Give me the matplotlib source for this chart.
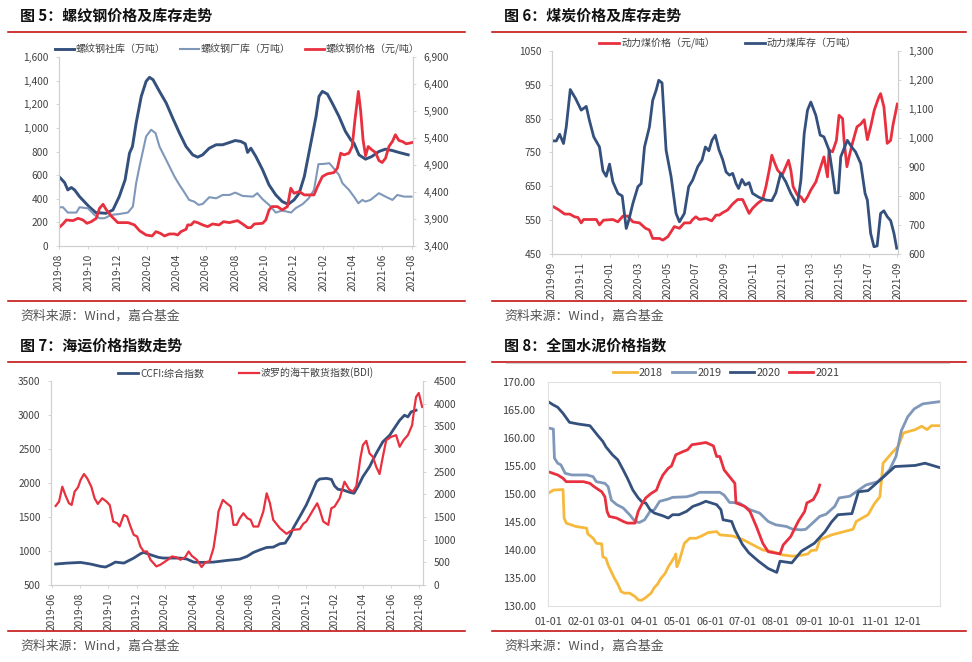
import numpy as np
import matplotlib
matplotlib.use("Agg")
import matplotlib.pyplot as plt
from matplotlib.lines import Line2D
from matplotlib.ticker import FuncFormatter

plt.rcParams['font.family'] = ['Noto Sans CJK SC', 'DejaVu Sans']

W, H = 972, 662

# ---------------- data ----------------
# fig 5: rebar, x = months since 2019-08
p1_ticks = ['2019-08', '2019-10', '2019-12', '2020-02', '2020-04', '2020-06', '2020-08',
            '2020-10', '2020-12', '2021-02', '2021-04', '2021-06', '2021-08']
rebar_social = [(0, 588), (0.38, 537), (0.6, 475), (0.84, 495), (1.06, 475), (1.4, 418),
                (2.04, 334), (2.5, 283), (3.2, 277), (3.67, 305), (4.1, 418), (4.5, 560),
                (4.8, 786), (5.0, 842), (5.25, 1040), (5.6, 1266), (5.93, 1394), (6.16, 1428),
                (6.4, 1408), (6.84, 1309), (7.3, 1210), (7.74, 1083), (8.2, 956), (8.65, 842),
                (9.1, 772), (9.44, 752), (9.78, 772), (10.23, 828), (10.7, 857), (11.14, 857),
                (11.6, 876), (12.0, 893), (12.38, 885), (12.68, 865), (12.84, 792), (13.06, 828),
                (13.4, 758), (13.86, 645), (14.3, 517), (14.76, 432), (15.2, 376), (15.6, 353),
                (16.0, 390), (16.35, 447), (16.7, 588), (17.1, 842), (17.5, 1097), (17.7, 1266),
                (17.93, 1309), (18.27, 1286), (18.6, 1210), (19.06, 1097), (19.5, 970),
                (19.86, 899), (20.08, 871), (20.42, 772), (20.87, 735), (21.3, 758), (21.78, 800),
                (22.23, 820), (22.7, 808), (23.14, 792), (23.77, 772)]
rebar_factory = [(0, 328), (0.27, 328), (0.6, 283), (1.18, 283), (1.4, 328), (1.97, 319),
                 (2.42, 263), (2.76, 235), (3.1, 235), (3.55, 263), (4.12, 271), (4.69, 283),
                 (5.03, 334), (5.25, 531), (5.48, 673), (5.93, 927), (6.27, 984), (6.57, 956),
                 (6.84, 842), (7.18, 758), (7.52, 673), (7.86, 588), (8.2, 517), (8.5, 461),
                 (8.86, 390), (9.2, 376), (9.5, 348), (9.78, 356), (10.23, 413), (10.7, 404),
                 (11.14, 432), (11.6, 432), (12.0, 452), (12.5, 424), (13.2, 418), (13.5, 447),
                 (13.86, 396), (14.3, 348), (14.76, 283), (15.2, 300), (15.8, 283), (16.1, 319),
                 (16.6, 356), (17.0, 404), (17.36, 475), (17.66, 693), (18.04, 695), (18.4, 701),
                 (18.6, 673), (19.06, 602), (19.3, 531), (19.74, 475), (20.08, 418), (20.38, 362),
                 (20.65, 390), (20.87, 376), (21.2, 390), (21.78, 447), (22.23, 418), (22.7, 390),
                 (23.03, 432), (23.5, 418), (24.0, 418)]
rebar_price = [(0, 3740), (0.27, 3808), (0.5, 3882), (0.95, 3870), (1.3, 3913), (1.63, 3882),
               (1.9, 3820), (2.2, 3851), (2.54, 3913), (2.76, 4099), (3.0, 4173), (3.2, 4080),
               (3.55, 3957), (4.0, 3833), (4.7, 3833), (5.14, 3790), (5.48, 3684), (5.93, 3604),
               (6.34, 3586), (6.6, 3666), (6.9, 3635), (7.18, 3586), (7.52, 3623), (7.86, 3623),
               (8.08, 3604), (8.3, 3666), (8.65, 3709), (8.76, 3790), (8.99, 3790), (9.2, 3851),
               (9.44, 3833), (9.78, 3790), (10.12, 3759), (10.46, 3808), (10.9, 3790),
               (11.2, 3851), (11.6, 3833), (12.15, 3870), (12.5, 3808), (12.84, 3740),
               (13.06, 3740), (13.3, 3808), (13.86, 3820), (14.08, 3882), (14.3, 4068),
               (14.5, 4130), (14.87, 4130), (15.2, 4068), (15.55, 4130), (15.78, 4470),
               (16.0, 4377), (16.35, 4408), (16.7, 4346), (17.36, 4346), (17.6, 4501),
               (17.93, 4686), (18.27, 4736), (18.72, 4760), (18.95, 4841), (19.18, 5119),
               (19.4, 5088), (19.74, 5119), (19.96, 5243), (20.15, 5738), (20.38, 6263),
               (20.53, 5923), (20.7, 5367), (20.87, 5070), (21.05, 5243), (21.3, 5181),
               (21.55, 5131), (21.78, 4983), (22.0, 4946), (22.23, 5026), (22.46, 5243),
               (22.7, 5336), (22.9, 5460), (23.14, 5354), (23.37, 5336), (23.64, 5292),
               (23.86, 5305), (24.05, 5317)]

# fig 6: coal, x = months since 2019-09
p2_ticks = ['2019-09', '2019-11', '2020-01', '2020-03', '2020-05', '2020-07', '2020-09',
            '2020-11', '2021-01', '2021-03', '2021-05', '2021-07', '2021-09']
coal_price = [(0, 592), (0.42, 582), (0.88, 568), (1.23, 568), (1.57, 560), (1.8, 558),
              (2.03, 542), (2.2, 552), (3.08, 552), (3.3, 536), (3.58, 550), (4.23, 552),
              (4.58, 545), (4.93, 562), (5.27, 562), (5.62, 545), (6.08, 542), (6.5, 526),
              (6.77, 521), (7.0, 496), (7.47, 496), (7.7, 491), (8.05, 501), (8.28, 516),
              (8.5, 531), (8.86, 526), (9.2, 542), (9.6, 542), (9.78, 552), (10.0, 560),
              (10.24, 552), (10.7, 555), (11.1, 548), (11.4, 565), (11.63, 565), (11.86, 572),
              (12.2, 580), (12.56, 598), (12.9, 611), (13.25, 611), (13.48, 590), (13.7, 570),
              (13.94, 585), (14.3, 600), (14.64, 611), (14.87, 649), (15.1, 698), (15.28, 742),
              (15.45, 722), (15.68, 698), (16.0, 683), (16.25, 708), (16.44, 727), (16.6, 698),
              (16.76, 649), (17.06, 624), (17.3, 619), (17.53, 604), (17.76, 619), (17.99, 639),
              (18.34, 663), (18.68, 708), (18.9, 737), (19.15, 678), (19.26, 757), (19.5, 752),
              (19.77, 786), (19.95, 860), (20.2, 850), (20.3, 786), (20.5, 708), (20.65, 737),
              (20.88, 777), (21.2, 826), (21.46, 834), (21.7, 847), (21.92, 788), (22.15, 826),
              (22.4, 875), (22.7, 912), (22.84, 924), (23.07, 885), (23.3, 777), (23.54, 786),
              (23.7, 831), (24.0, 893)]
coal_stock = [(0, 990), (0.3, 990), (0.53, 1013), (0.8, 981), (0.99, 1038), (1.27, 1167),
              (1.64, 1136), (2.03, 1096), (2.38, 1109), (2.6, 1061), (2.9, 1004), (3.3, 969),
              (3.54, 887), (3.77, 868), (4.0, 910), (4.23, 849), (4.58, 809), (4.88, 800),
              (5.16, 688), (5.34, 717), (5.62, 774), (5.97, 832), (6.2, 843), (6.43, 969),
              (6.77, 1038), (7.0, 1130), (7.24, 1165), (7.42, 1199), (7.65, 1190), (7.93, 958),
              (8.28, 866), (8.62, 740), (8.86, 711), (9.2, 740), (9.5, 832), (9.78, 855),
              (10.13, 901), (10.43, 924), (10.66, 969), (10.9, 956), (11.12, 992), (11.35, 1010),
              (11.6, 960), (11.86, 926), (12.1, 883), (12.33, 872), (12.56, 878), (12.79, 843),
              (12.97, 826), (13.2, 857), (13.43, 838), (13.7, 846), (13.94, 809), (14.4, 795),
              (14.87, 786), (15.28, 784), (15.56, 811), (15.9, 878), (16.25, 849), (16.6, 809),
              (17.06, 769), (17.3, 855), (17.53, 1015), (17.76, 1096), (17.99, 1124),
              (18.34, 1078), (18.64, 1010), (18.9, 1004), (19.26, 958), (19.5, 878),
              (19.68, 811), (19.9, 811), (20.07, 935), (20.3, 964), (20.53, 992), (20.83, 969),
              (21.1, 952), (21.46, 912), (21.76, 809), (21.92, 786), (22.15, 671), (22.38, 625),
              (22.6, 628), (22.84, 740), (23.07, 749), (23.3, 729), (23.54, 715), (23.77, 671),
              (23.96, 620)]

# fig 7: shipping, x = months since 2019-06
p3_ticks = ['2019-06', '2019-08', '2019-10', '2019-12', '2020-02', '2020-04', '2020-06',
            '2020-08', '2020-10', '2020-12', '2021-02', '2021-04', '2021-06', '2021-08']
ccfi = [(0.28, 808), (1.1, 822), (2.04, 832), (2.75, 808), (3.45, 774), (3.8, 764), (4.16, 798),
        (4.5, 837), (5.1, 822), (5.8, 896), (6.27, 959), (6.5, 979), (6.98, 945), (7.56, 906),
        (7.9, 896), (9.1, 896), (9.56, 881), (10.03, 837), (10.5, 832), (11.44, 837),
        (12.38, 861), (13.3, 881), (13.8, 920), (14.26, 979), (14.73, 1018), (15.2, 1052),
        (15.66, 1057), (16.13, 1106), (16.5, 1116), (16.84, 1223), (17.07, 1335), (17.54, 1506),
        (18.0, 1678), (18.37, 1849), (18.72, 2020), (18.95, 2059), (19.42, 2068), (19.77, 2054),
        (20.0, 1956), (20.24, 1907), (20.6, 1897), (21.07, 1863), (21.37, 1849), (21.65, 1946),
        (22.0, 2093), (22.47, 2239), (22.94, 2435), (23.41, 2606), (23.9, 2704), (24.24, 2811),
        (24.6, 2923), (24.94, 2997), (25.18, 2972), (25.41, 3046), (25.76, 3070)]
bdi = [(0.28, 1744), (0.52, 1840), (0.75, 2169), (0.99, 1964), (1.22, 1803), (1.41, 1766),
       (1.62, 2059), (1.86, 2155), (2.04, 2316), (2.28, 2448), (2.51, 2353), (2.8, 2169),
       (3.03, 1913), (3.26, 1788), (3.57, 1913), (3.88, 1840), (4.1, 1766), (4.35, 1400),
       (4.63, 1363), (4.8, 1290), (5.1, 1546), (5.33, 1510), (5.57, 1290), (5.8, 1107),
       (6.04, 1070), (6.27, 850), (6.5, 740), (6.74, 740), (6.98, 557), (7.4, 410), (7.68, 447),
       (8.03, 520), (8.27, 572), (8.5, 630), (8.85, 608), (9.1, 557), (9.44, 616), (9.68, 740),
       (9.9, 645), (10.26, 557), (10.6, 396), (10.85, 498), (11.15, 520), (11.44, 813),
       (11.67, 1290), (11.79, 1620), (12.1, 1876), (12.37, 1803), (12.66, 1730), (12.85, 1327),
       (13.08, 1327), (13.3, 1473), (13.55, 1583), (13.83, 1473), (14.07, 1437), (14.26, 1290),
       (14.6, 1290), (14.96, 1620), (15.2, 2023), (15.43, 1803), (15.66, 1437), (16.13, 1253),
       (16.6, 1129), (16.84, 1180), (17.07, 1217), (17.54, 1231), (17.78, 1349), (18.0, 1400),
       (18.48, 1656), (18.77, 1803), (18.95, 1656), (19.2, 1400), (19.55, 1327), (19.77, 1693),
       (20.0, 1730), (20.36, 1913), (20.7, 2279), (21.02, 2111), (21.3, 2059), (21.54, 2184),
       (21.82, 2792), (22.0, 3086), (22.24, 3181), (22.47, 2902), (22.7, 2829), (22.94, 2609),
       (23.18, 2448), (23.41, 2829), (23.65, 3195), (24.0, 3269), (24.35, 3305), (24.6, 3049),
       (24.87, 3195), (25.18, 3305), (25.48, 3525), (25.65, 3928), (25.76, 4148), (25.95, 4236),
       (26.19, 3928)]

# fig 8: cement, x = day of year
p4_ticks = ['01-01', '02-01', '03-01', '04-01', '05-01', '06-01', '07-01', '08-01', '09-01',
            '10-01', '11-01', '12-01']
p4_tick_days = [0, 31, 59, 90, 120, 151, 181, 212, 243, 273, 304, 334]
cem_2018 = [(0, 150.1), (5, 150.7), (14, 150.8), (15, 145.7), (17, 144.8), (26, 144.2),
            (36, 143.9), (37, 142.9), (42, 142.1), (45, 141.2), (50, 141.1), (51, 138.8),
            (54, 138.5), (56, 137.3), (59, 136.1), (62, 134.9), (65, 133.9), (68, 132.6),
            (71, 132.3), (76, 132.3), (81, 131.7), (84, 131.1), (87, 131.0), (91, 131.5),
            (96, 132.3), (99, 133.3), (102, 133.9), (105, 134.9), (109, 135.8), (112, 137.0),
            (115, 137.9), (118, 138.8), (119, 139.3), (120, 137.0), (122, 137.9), (127, 141.2),
            (132, 142.1), (138, 142.1), (143, 142.5), (149, 143.1), (157, 143.3), (160, 142.7),
            (172, 142.5), (181, 141.9), (191, 140.9), (200, 140.0), (209, 139.7), (219, 139.1),
            (228, 138.9), (237, 139.1), (242, 139.3), (245, 139.9), (250, 140.0), (253, 141.8),
            (264, 142.7), (276, 143.3), (284, 143.7), (287, 145.1), (298, 146.3), (304, 148.3),
            (309, 149.5), (312, 155.5), (320, 157.3), (326, 158.5), (331, 160.9), (342, 161.5),
            (348, 162.1), (353, 161.5), (357, 162.2), (365, 162.2)]
cem_2019 = [(0, 161.8), (5, 161.6), (6, 156.4), (9, 155.5), (12, 155.2), (16, 153.7),
            (22, 153.4), (36, 153.4), (42, 153.1), (45, 152.2), (53, 151.9), (56, 151.3),
            (59, 148.9), (64, 148.1), (70, 147.5), (76, 146.3), (81, 145.1), (85, 144.9),
            (90, 145.4), (95, 146.9), (99, 147.2), (104, 148.7), (112, 149.1), (116, 149.4),
            (129, 149.5), (135, 149.8), (141, 150.3), (150, 150.3), (160, 150.3), (164, 149.8),
            (169, 148.5), (178, 148.4), (188, 147.2), (197, 146.6), (205, 145.1), (212, 144.5),
            (222, 144.2), (228, 143.7), (236, 143.6), (240, 143.7), (248, 145.1), (253, 146.0),
            (259, 146.4), (267, 147.8), (271, 149.3), (281, 149.6), (287, 150.4), (296, 151.6),
            (307, 152.2), (312, 153.1), (318, 154.3), (324, 156.7), (329, 161.3), (335, 163.8),
            (341, 165.2), (349, 166.1), (365, 166.5)]
cem_2020 = [(0, 166.5), (5, 165.9), (9, 165.5), (14, 164.4), (17, 163.6), (20, 162.8),
            (28, 162.5), (39, 162.2), (42, 161.5), (47, 160.3), (51, 159.4), (54, 158.4),
            (60, 157.0), (65, 156.1), (70, 154.3), (74, 152.8), (79, 150.7), (84, 149.3),
            (88, 148.5), (91, 148.4), (95, 147.2), (99, 146.6), (107, 146.1), (112, 145.7),
            (116, 146.3), (122, 146.3), (129, 146.9), (135, 147.8), (141, 148.2), (147, 148.7),
            (157, 148.1), (161, 147.2), (163, 145.4), (171, 145.1), (174, 143.6), (181, 141.0),
            (187, 139.5), (196, 138.0), (205, 136.7), (213, 136.0), (216, 138.0), (227, 137.7),
            (236, 139.8), (248, 141.2), (258, 143.3), (264, 145.0), (270, 146.3), (283, 146.5),
            (289, 150.4), (298, 150.6), (311, 152.8), (323, 154.9), (342, 155.1), (351, 155.5),
            (365, 154.7)]
cem_2021 = [(0, 154.0), (9, 153.4), (14, 152.8), (17, 152.2), (33, 152.2), (39, 151.9),
            (43, 151.3), (50, 150.4), (53, 149.5), (55, 146.9), (57, 146.0), (64, 145.7),
            (70, 145.1), (74, 144.8), (81, 144.8), (84, 146.9), (88, 148.4), (91, 149.3),
            (96, 150.1), (101, 150.7), (104, 152.2), (107, 153.4), (112, 154.6), (115, 155.0),
            (119, 157.0), (126, 157.6), (130, 157.9), (134, 158.8), (141, 159.0), (147, 159.2),
            (154, 158.6), (157, 156.7), (160, 156.7), (164, 154.3), (169, 153.1), (174, 151.9),
            (175, 148.4), (183, 147.8), (188, 146.9), (194, 144.2), (200, 141.2), (205, 139.7),
            (216, 139.3), (219, 140.9), (226, 142.4), (233, 145.1), (239, 146.9), (241, 148.4),
            (247, 149.0), (251, 150.4), (253, 151.6)]

# ---------------- style ----------------
DARK = '#34507c'
LIGHT = '#7f98ba'
RED = '#e8303f'
YELLOW = '#f6b93b'
RULE = '#c00000'
SPINE = '#d0d0d0'
TXT = '#404040'


def rect(l, t, r, b):
    return [l / W, 1 - b / H, (r - l) / W, (b - t) / H]


def fx(x):
    return x / W


def fy(y):
    return 1 - y / H


def xy(pairs):
    a = np.array(pairs, dtype=float)
    return a[:, 0], a[:, 1]


fig = plt.figure(figsize=(W / 100, H / 100), dpi=100)

# frames: titles, red rules, source notes
titles = ['图 5：螺纹钢价格及库存走势', '图 6：煤炭价格及库存走势',
          '图 7：海运价格指数走势', '图 8：全国水泥价格指数']
for i, (ox, oy) in enumerate([(0, 0), (486, 0), (0, 330), (486, 330)]):
    x0 = 20 if ox == 0 else 504
    fig.text(fx(x0), fy(oy + 16), titles[i], fontsize=10.8, fontweight='bold',
             va='center', ha='left', color='#111111')
    l, r = (8, 465) if ox == 0 else (492, 966)
    fig.add_artist(Line2D([fx(l), fx(r)], [fy(oy + 32), fy(oy + 32)], color=RULE, lw=1.1))
    fig.add_artist(Line2D([fx(l), fx(r)], [fy(oy + 300.5), fy(oy + 300.5)], color=RULE, lw=1.1))
    fig.text(fx(x0), fy(oy + 316), '资料来源：Wind，嘉合基金', fontsize=9.3,
             va='center', ha='left', color='#555555')
fig.add_artist(Line2D([fx(506), fx(949)], [fy(363), fy(363)], color='#d0d0d0', lw=0.8))


def style_dual(ax, ax2, ticks_lbl):
    for a in (ax, ax2):
        a.spines['top'].set_visible(False)
        for s in ('left', 'right', 'bottom'):
            a.spines[s].set_color(SPINE)
            a.spines[s].set_linewidth(0.8)
        a.tick_params(colors=TXT, labelsize=7.3, length=2.5, width=0.6)
        a.tick_params(axis='y', color=SPINE)
        a.tick_params(axis='x', color=SPINE)
    ax.set_xticks(np.arange(len(ticks_lbl)) * 2)
    ax.set_xticklabels(ticks_lbl, rotation=90)
    ax.tick_params(axis='x', pad=3)
    ax.tick_params(axis='y', pad=5)
    ax2.tick_params(axis='y', pad=5)


comma = FuncFormatter(lambda v, p: f'{v:,.0f}')
plain = FuncFormatter(lambda v, p: f'{v:.0f}')
leg_kw = dict(loc='center', frameon=False, fontsize=7.2, handletextpad=0.2,
              labelcolor=TXT, borderpad=0)

# ---- fig 5 ----
ax = fig.add_axes(rect(59, 57, 413, 246))
ax2 = ax.twinx()
t, v = xy(rebar_social)
ax.plot(t, v, color=DARK, lw=2.1, solid_joinstyle='round')
t, v = xy(rebar_factory)
ax.plot(t, v, color=LIGHT, lw=1.5, solid_joinstyle='round')
t, v = xy(rebar_price)
ax2.plot(t, v, color=RED, lw=2.0, solid_joinstyle='round')
ax.set_xlim(0, 24.1)
ax.set_ylim(0, 1600)
ax.set_yticks(np.arange(0, 1601, 200))
ax2.set_ylim(3400, 6900)
ax2.set_yticks(np.arange(3400, 6901, 500))
ax.yaxis.set_major_formatter(comma)
ax2.yaxis.set_major_formatter(comma)
style_dual(ax, ax2, p1_ticks)
h = [Line2D([], [], color=DARK, lw=2.1), Line2D([], [], color=LIGHT, lw=1.5),
     Line2D([], [], color=RED, lw=2.0)]
fig.legend(h, ['螺纹钢社库（万吨）', '螺纹钢厂库（万吨）', '螺纹钢价格（元/吨）'],
           bbox_to_anchor=(fx(237), fy(49)), ncol=3, handlelength=1.9,
           columnspacing=1.4, **leg_kw)

# ---- fig 6 ----
ax = fig.add_axes(rect(552, 51, 898, 254))
ax2 = ax.twinx()
t, v = xy(coal_price)
ax.plot(t, v, color=RED, lw=2.0, solid_joinstyle='round')
t, v = xy(coal_stock)
ax2.plot(t, v, color=DARK, lw=2.0, solid_joinstyle='round')
ax.set_xlim(0, 24.05)
ax.set_ylim(450, 1050)
ax.set_yticks(np.arange(450, 1051, 100))
ax2.set_ylim(600, 1300)
ax2.set_yticks(np.arange(600, 1301, 100))
ax.yaxis.set_major_formatter(plain)
ax2.yaxis.set_major_formatter(comma)
style_dual(ax, ax2, p2_ticks)
h = [Line2D([], [], color=RED, lw=2.0), Line2D([], [], color=DARK, lw=2.0)]
fig.legend(h, ['动力煤价格（元/吨）', '动力煤库存（万吨）'],
           bbox_to_anchor=(fx(728), fy(43)), ncol=2, handlelength=2.0,
           columnspacing=3.0, **leg_kw)

# ---- fig 7 ----
ax = fig.add_axes(rect(51, 381, 423, 585))
ax2 = ax.twinx()
t, v = xy(ccfi)
ax.plot(t, v, color=DARK, lw=2.0, solid_joinstyle='round')
t, v = xy(bdi)
ax2.plot(t, v, color=RED, lw=1.6, solid_joinstyle='round')
ax.set_xlim(-0.05, 26.25)
ax.set_ylim(500, 3500)
ax.set_yticks(np.arange(500, 3501, 500))
ax2.set_ylim(0, 4500)
ax2.set_yticks(np.arange(0, 4501, 500))
ax.yaxis.set_major_formatter(plain)
ax2.yaxis.set_major_formatter(plain)
style_dual(ax, ax2, p3_ticks)
h = [Line2D([], [], color=DARK, lw=2.0), Line2D([], [], color=RED, lw=1.6)]
fig.legend(h, ['CCFI:综合指数', '波罗的海干散货指数(BDI)'],
           bbox_to_anchor=(fx(246), fy(373)), ncol=2, handlelength=2.0,
           columnspacing=3.5, **leg_kw)

# ---- fig 8 ----
ax = fig.add_axes(rect(548, 382, 940, 606))
for pairs, c in [(cem_2018, YELLOW), (cem_2019, LIGHT), (cem_2020, DARK), (cem_2021, RED)]:
    t, v = xy(pairs)
    ax.plot(t, v, color=c, lw=2.0, solid_joinstyle='round')
ax.set_xlim(0, 365)
ax.set_ylim(130, 170)
ax.set_yticks(np.arange(130, 171, 5))
ax.yaxis.set_major_formatter(FuncFormatter(lambda v, p: f'{v:.2f}'))
ax.set_xticks(p4_tick_days)
ax.set_xticklabels(p4_ticks)
for s in ax.spines.values():
    s.set_color('#e0e0e0')
    s.set_linewidth(0.8)
ax.tick_params(length=0, colors=TXT, labelsize=7.8)
ax.tick_params(axis='x', pad=8)
ax.tick_params(axis='y', pad=9)
h = [Line2D([], [], color=c, lw=2.0) for c in (YELLOW, LIGHT, DARK, RED)]
fig.legend(h, ['2018', '2019', '2020', '2021'],
           loc='center', bbox_to_anchor=(fx(726), fy(373)), ncol=4, frameon=False,
           fontsize=7.8, handlelength=2.2, columnspacing=0.8, handletextpad=0.2,
           labelcolor=TXT, borderpad=0)

fig.savefig('out.png', dpi=100)
